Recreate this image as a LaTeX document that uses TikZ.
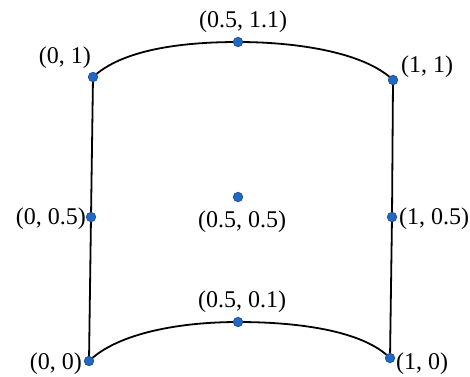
\documentclass[tikz,border=0pt]{standalone}
\usepackage{fontspec}
\setmainfont{Liberation Serif}
\definecolor{dotblue}{HTML}{2268C4}
\definecolor{dotedge}{HTML}{1A4E92}
\begin{document}
\begin{tikzpicture}[x=1pt,y=-1pt,
  pt/.style={circle,fill=dotblue,draw=dotedge,line width=0.7pt,inner sep=0pt,minimum size=9.5pt},
  lab/.style={font=\fontsize{24}{24}\selectfont,inner sep=0pt},
  edge/.style={line width=1.8pt,black}]
\useasboundingbox (0,0) rectangle (470,376);
\coordinate (A) at (93,77);
\coordinate (T) at (238,42);
\coordinate (B) at (393,80);
\coordinate (L) at (91,217);
\coordinate (C) at (238,197);
\coordinate (R) at (392,217);
\coordinate (D) at (89,361);
\coordinate (U) at (238,322);
\coordinate (E) at (390,358);
\draw[edge] (A) .. controls (122,50) and (180,42) .. (T) .. controls (296,42) and (364,52) .. (B);
\draw[edge] (D) .. controls (118,333) and (180,322) .. (U) .. controls (296,322) and (362,330) .. (E);
\draw[edge] (A) -- (L) -- (D);
\draw[edge] (B) -- (R) -- (E);
\foreach \p in {A,T,B,L,C,R,D,U,E} \node[pt] (n\p) at (\p) {};
\node[lab,anchor=east] (lA) at (91,58) {(0, 1)};
\node[lab] (lT) at (243,22) {(0.5, 1.1)};
\node[lab,anchor=west] (lB) at (401,67) {(1, 1)};
\node[lab,anchor=east] (lL) at (86,219) {(0, 0.5)};
\node[lab] (lC) at (242,222) {(0.5, 0.5)};
\node[lab,anchor=west] (lR) at (399,219) {(1, 0.5)};
\node[lab] (lU) at (242,302) {(0.5, 0.1)};
\node[lab,anchor=east] (lD) at (82,364) {(0, 0)};
\node[lab,anchor=west] (lE) at (396,364) {(1, 0)};
\end{tikzpicture}
\end{document}
